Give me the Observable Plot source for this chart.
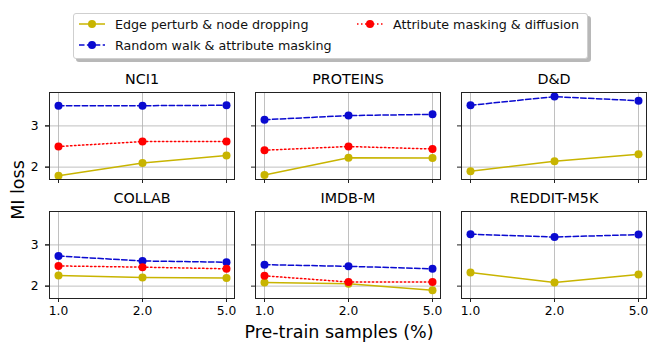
<!DOCTYPE html>
<html>
<head>
<meta charset="utf-8">
<script src="https://cdn.jsdelivr.net/npm/d3@7"></script>
<script src="https://cdn.jsdelivr.net/npm/@observablehq/plot@0.6"></script>
<style>
  html, body { margin: 0; padding: 0; background: #fff; }
  body { width: 648px; height: 342px; position: relative; overflow: hidden; font-family: "DejaVu Sans", sans-serif; color: #000; }
  #legend { position: relative; height: 65px; }
  #legend .box { position: absolute; left: 73px; top: 13px; width: 513px; height: 44px; border: 1px solid #cfcfcf; border-radius: 3px; background: #fff; box-shadow: 3px 3px 0 rgba(0,0,0,0.28); }
  #legend .item { position: absolute; display: flex; align-items: center; font-size: 12.7px; color: #111; white-space: nowrap; height: 14px; }
  #legend .item svg { margin-right: 9px; }
  .lab { position: absolute; font-size: 17.5px; white-space: nowrap; }
</style>
</head>
<body>
<div id="legend"><div class="box"></div></div>
<div id="chart"></div>
<div class="lab" id="xlab"></div>
<div class="lab" id="ylab"></div>
<script>
const datasets = ["NCI1", "PROTEINS", "D&D", "COLLAB", "IMDB-M", "REDDIT-M5K"];
const samples = ["1.0", "2.0", "5.0"];
const methods = ["Edge perturb & node dropping", "Random walk & attribute masking", "Attribute masking & diffusion"];
const methodColors = ["#c8b400", "#0a0ad0", "#ff0000"];
const methodDash = [null, "5.5,2.4", "1.5,2.5"];
const yTicks = [2, 3];

// values per dataset (order as datasets), per sample (1.0, 2.0, 5.0)
const edgePerturb = [
  [1.79, 2.10, 2.28],
  [1.81, 2.23, 2.22],
  [1.90, 2.14, 2.31],
  [2.26, 2.21, 2.20],
  [2.09, 2.06, 1.90],
  [2.33, 2.09, 2.28]
];
const randomWalk = [
  [3.49, 3.49, 3.50],
  [3.15, 3.25, 3.28],
  [3.50, 3.71, 3.61],
  [2.73, 2.61, 2.58],
  [2.52, 2.48, 2.42],
  [3.26, 3.19, 3.25]
];
const attrMasking = [
  [2.50, 2.62, 2.62],
  [2.41, 2.50, 2.44],
  null,
  [2.49, 2.46, 2.42],
  [2.25, 2.10, 2.10],
  null
];

const series = [edgePerturb, randomWalk, attrMasking];
const rows = [];
series.forEach((s, m) => {
  s.forEach((vals, i) => {
    if (!vals) return;
    vals.forEach((v, j) => rows.push({
      method: methods[m], mi: m, dataset: datasets[i], col: i % 3, row: Math.floor(i / 3), sample: samples[j], value: v
    }));
  });
});
const titles = datasets.map((d, i) => ({name: d, col: i % 3, row: Math.floor(i / 3)}));

const lineMarks = [];
methods.forEach((m, k) => {
  const d = rows.filter(r => r.mi === k);
  lineMarks.push(Plot.line(d, {x: "sample", y: "value", fx: "col", fy: "row", z: "dataset", stroke: methodColors[k], strokeWidth: 1.5, strokeDasharray: methodDash[k] || undefined}));
  lineMarks.push(Plot.dot(d, {x: "sample", y: "value", fx: "col", fy: "row", fill: methodColors[k], r: 4}));
});

const chart = Plot.plot({
  width: 648,
  height: 277,
  marginLeft: 48,
  marginRight: 2,
  marginTop: 26,
  marginBottom: 44,
  style: {fontFamily: "DejaVu Sans", fontSize: "12px", color: "#000", background: "transparent", overflow: "visible"},
  fx: {axis: null, domain: [0, 1, 2], paddingInner: 0.104, paddingOuter: 0},
  fy: {axis: null, domain: [0, 1], paddingInner: 0.273, paddingOuter: 0},
  x: {type: "point", domain: samples, padding: 0.1},
  y: {domain: [1.70, 3.81]},
  marks: [
    Plot.gridX(samples, {stroke: "#b0b0b0", strokeOpacity: 1, strokeWidth: 0.8}),
    Plot.gridY(yTicks, {stroke: "#b0b0b0", strokeOpacity: 1, strokeWidth: 0.8}),
    Plot.axisX(samples, {facetAnchor: null, tickSize: 4, tickFormat: () => "", label: null, stroke: "#222"}),
    Plot.axisX(samples, {facetAnchor: "bottom", tickSize: 4, tickPadding: 4, label: null, fontSize: 12.3, stroke: "#222"}),
    Plot.axisY(yTicks, {facetAnchor: null, tickSize: 4, tickFormat: () => "", label: null, stroke: "#222"}),
    Plot.axisY(yTicks, {facetAnchor: "left", tickSize: 4, tickPadding: 7, tickFormat: d3.format("d"), label: null, fontSize: 12.3, stroke: "#222"}),
    ...lineMarks,
    Plot.frame({stroke: "#222", strokeWidth: 1}),
    Plot.text(titles, {fx: "col", fy: "row", text: "name", frameAnchor: "top", lineAnchor: "middle", dy: -13, fontSize: 14.3})
  ]
});
document.getElementById("chart").appendChild(chart);

// legend
const box = document.querySelector("#legend .box");
const legendPos = [[4, 3], [4, 24], [282, 3]];
methods.forEach((m, k) => {
  const it = document.createElement("div");
  it.className = "item";
  it.style.left = legendPos[k][0] + "px";
  it.style.top = legendPos[k][1] + "px";
  const dash = methodDash[k] ? ` stroke-dasharray="${methodDash[k]}"` : "";
  it.innerHTML = `<svg width="28" height="12"><line x1="1" x2="27" y1="6" y2="6" stroke="${methodColors[k]}" stroke-width="1.5"${dash}></line><circle cx="14" cy="6" r="4" fill="${methodColors[k]}"></circle></svg><span>${m.replace(/&/g, "&amp;")}</span>`;
  box.appendChild(it);
});

// axis labels
const xl = document.getElementById("xlab");
xl.textContent = "Pre-train samples (%)";
xl.style.left = "339px"; xl.style.top = "332px";
xl.style.transform = "translate(-50%, -50%)";
const yl = document.getElementById("ylab");
yl.textContent = "MI loss";
yl.style.left = "18px"; yl.style.top = "190px";
yl.style.transform = "translate(-50%, -50%) rotate(-90deg)";
</script>
</body>
</html>
